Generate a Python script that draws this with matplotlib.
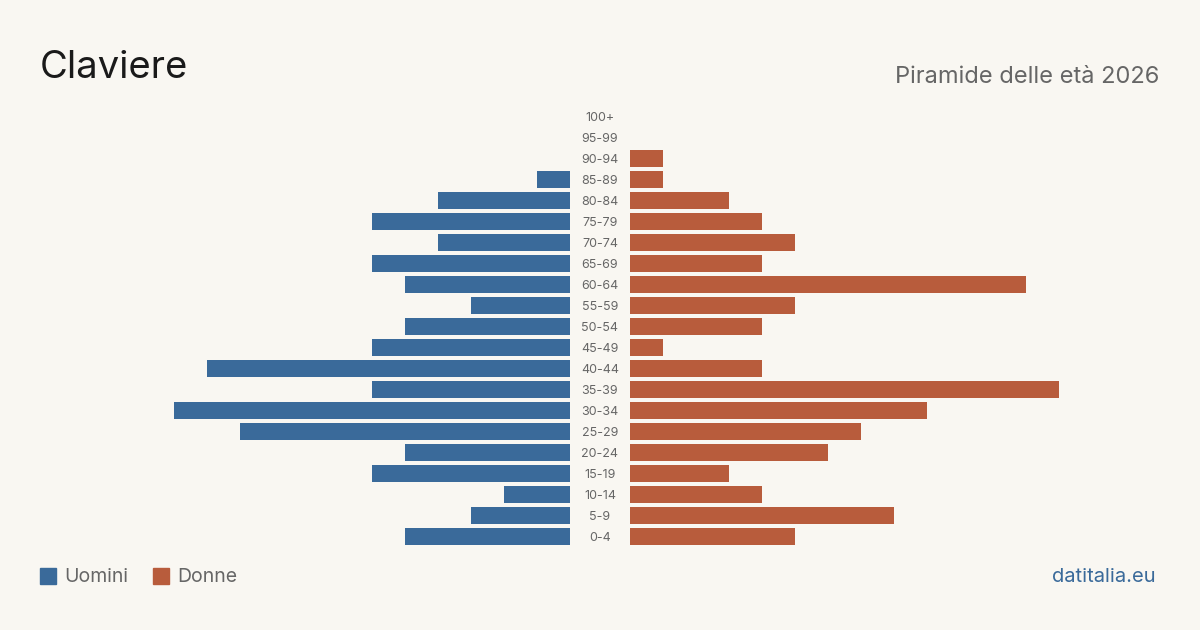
import numpy as np
import matplotlib.pyplot as plt

plt.rcParams['font.family'] = ['Inter', 'DejaVu Sans']

# age groups from youngest to oldest
age_groups = ['0-4', '5-9', '10-14', '15-19', '20-24', '25-29', '30-34', '35-39',
              '40-44', '45-49', '50-54', '55-59', '60-64', '65-69', '70-74', '75-79',
              '80-84', '85-89', '90-94', '95-99', '100+']
uomini = [5, 3, 2, 6, 5, 10, 12, 6, 11, 6, 5, 3, 5, 6, 4, 6, 4, 1, 0, 0, 0]
donne = [5, 8, 4, 3, 6, 7, 9, 13, 4, 1, 4, 5, 12, 4, 5, 4, 3, 1, 1, 0, 0]

bg = '#f9f7f2'
blue = '#3a6a9a'
orange = '#b85c3c'
grey = '#666666'

W, H = 1200, 630
fig = plt.figure(figsize=(12, 6.3), dpi=100, facecolor=bg)

unit = 33.0  # pixels per person
bottom = 1 - 547 / H
height = 441 / H

axl = fig.add_axes([(570 - unit * 12) / W, bottom, unit * 12 / W, height])
axr = fig.add_axes([630 / W, bottom, unit * 13 / W, height])

y = np.arange(len(age_groups))
axl.barh(y, uomini, height=0.81, color=blue)
axr.barh(y, donne, height=0.81, color=orange)
axl.set_xlim(12, 0)
axr.set_xlim(0, 13)
for ax in (axl, axr):
    ax.set_ylim(-0.5, len(age_groups) - 0.5)
    ax.axis('off')

# age labels in the gap between the two sides
for i, lab in enumerate(age_groups):
    yp = 1 - (538 - 21 * i) / H
    fig.text(600 / W, yp, lab, ha='center', va='center', fontsize=9, color=grey)

fig.text(40 / W, 1 - 68 / H, 'Claviere', fontsize=27.5, color='#1a1a1a', va='center', ha='left')
fig.text(1159 / W, 1 - 77 / H, 'Piramide delle età 2026', fontsize=17, color=grey,
         va='center', ha='right')

# legend
fig.patches.append(plt.Rectangle((40 / W, 1 - 584 / H), 16 / W, 16 / H, color=blue,
                                 transform=fig.transFigure, figure=fig))
fig.text(64 / W, 1 - 577 / H, 'Uomini', fontsize=14, color=grey, va='center', ha='left')
fig.patches.append(plt.Rectangle((153 / W, 1 - 584 / H), 16 / W, 16 / H, color=orange,
                                 transform=fig.transFigure, figure=fig))
fig.text(177 / W, 1 - 577 / H, 'Donne', fontsize=14, color=grey, va='center', ha='left')

fig.text(1156 / W, 1 - 577 / H, 'datitalia.eu', fontsize=14.5, color=blue, va='center', ha='right')

fig.savefig('out.png', dpi=100, facecolor=bg)
